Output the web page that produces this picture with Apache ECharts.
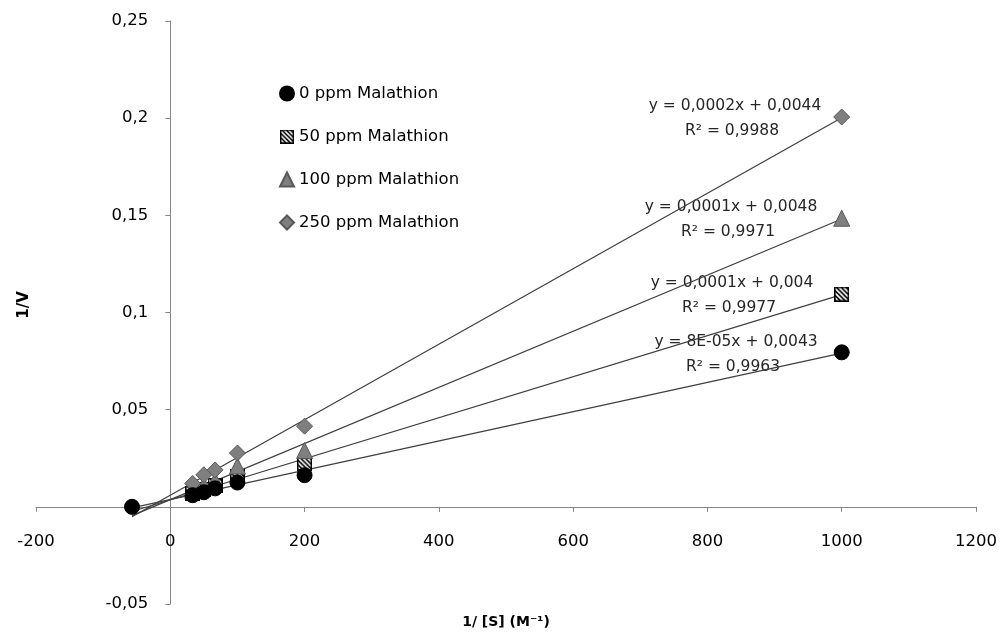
<!DOCTYPE html>
<html>
<head>
<meta charset="utf-8">
<script src="https://cdn.jsdelivr.net/npm/echarts@6/dist/echarts.min.js"></script>
<style>
  html, body { margin: 0; padding: 0; background: #fff; }
  #main { width: 999px; height: 633px; }
</style>
</head>
<body>
<div id="main"></div>
<script>
// values (1/[S] vs 1/V)
var seriesNames = ["0 ppm Malathion", "50 ppm Malathion", "100 ppm Malathion", "250 ppm Malathion"];
var xValues = [33.3, 50, 66.7, 100, 200, 1000];
var y0ppm = [0.006, 0.0075, 0.0095, 0.0125, 0.0163, 0.0795];
var y50ppm = [0.007, 0.009, 0.0112, 0.0158, 0.0223, 0.1095];
var y100ppm = [0.0085, 0.011, 0.0135, 0.021, 0.029, 0.1485];
var y250ppm = [0.012, 0.0165, 0.019, 0.0277, 0.0415, 0.2006];
// extra point on the x axis for the 0 ppm series
var interceptX = -57;
var trendLabels = [
  ["y = 8E-05x + 0,0043", "R² = 0,9963"],
  ["y = 0,0001x + 0,004", "R² = 0,9977"],
  ["y = 0,0001x + 0,0048", "R² = 0,9971"],
  ["y = 0,0002x + 0,0044", "R² = 0,9988"]
];

function pairs(xs, ys) {
  return xs.map(function (x, i) { return [x, ys[i]]; });
}

// least squares fit, drawn from interceptX to last x like the excel trendline
function trend(pts) {
  var n = pts.length, sx = 0, sy = 0, sxx = 0, sxy = 0;
  pts.forEach(function (p) { sx += p[0]; sy += p[1]; sxx += p[0] * p[0]; sxy += p[0] * p[1]; });
  var b = (n * sxy - sx * sy) / (n * sxx - sx * sx);
  var a = (sy - b * sx) / n;
  var x1 = interceptX, x2 = xValues[xValues.length - 1];
  return [[x1, a + b * x1], [x2, a + b * x2]];
}

// black square with white diagonal stripes, used as the 50 ppm marker
function hatchSquare() {
  var c = document.createElement("canvas");
  c.width = 16; c.height = 16;
  var g = c.getContext("2d");
  g.fillStyle = "#000";
  g.fillRect(0, 0, 16, 16);
  g.save();
  g.beginPath();
  g.rect(1.5, 1.5, 13, 13);
  g.clip();
  g.strokeStyle = "#fff";
  g.lineWidth = 1.8;
  g.beginPath();
  for (var k = -16; k <= 16; k += 5) {
    g.moveTo(k, 0); g.lineTo(k + 16, 16);
  }
  g.stroke();
  g.restore();
  return "image://" + c.toDataURL();
}
var squareIcon = hatchSquare();

var data0 = [[interceptX, 0]].concat(pairs(xValues, y0ppm));
var data50 = pairs(xValues, y50ppm);
var data100 = pairs(xValues, y100ppm);
var data250 = pairs(xValues, y250ppm);

var chart = echarts.init(document.getElementById("main"));

function comma(v) { return String(v).replace(".", ","); }

var trendStyle = { color: "#3f3f3f", width: 1.2 };

function trendSeries(pts) {
  return {
    type: "line",
    data: trend(pts),
    symbol: "none",
    silent: true,
    lineStyle: trendStyle,
    z: 1
  };
}

var labelGraphics = [];
var labelPos = [[736, 342], [732, 283], [731, 207], [735, 106]];
trendLabels.forEach(function (t, i) {
  labelGraphics.push({
    type: "text", x: labelPos[i][0], y: labelPos[i][1],
    style: { text: t[0], fill: "#262626", font: "15.5px 'DejaVu Sans'", align: "center", verticalAlign: "middle" }
  });
  labelGraphics.push({
    type: "text", x: labelPos[i][0] - 3, y: labelPos[i][1] + 25,
    style: { text: t[1], fill: "#262626", font: "15.5px 'DejaVu Sans'", align: "center", verticalAlign: "middle" }
  });
});
labelGraphics.push({
  type: "text", x: 506, y: 622,
  style: { text: "1/ [S] (M⁻¹)", fill: "#000", font: "bold 14px 'DejaVu Sans'", align: "center", verticalAlign: "middle" }
});
labelGraphics.push({
  type: "text", x: 24, y: 305, rotation: Math.PI / 2,
  style: { text: "1/V", fill: "#000", font: "bold 15px 'DejaVu Sans'", align: "center", verticalAlign: "middle" }
});

var gridBox = { left: 36, right: 23, top: 21, bottom: 29 };
var xMin = -200, xMax = 1200, yMin = -0.05, yMax = 0.25;
// the axes cross at zero: shift each axis from the grid edge to the zero of the other one
var plotW = 999 - gridBox.left - gridBox.right;
var plotH = 633 - gridBox.top - gridBox.bottom;
var yAxisShift = (0 - xMin) / (xMax - xMin) * plotW;
var xAxisShift = (0 - yMin) / (yMax - yMin) * plotH;

var option = {
  backgroundColor: "#fff",
  animation: false,
  grid: { left: gridBox.left, right: gridBox.right, top: gridBox.top, bottom: gridBox.bottom, containLabel: false, outerBoundsMode: "none" },
  legend: {
    orient: "vertical",
    left: 274,
    top: 80,
    itemWidth: 14,
    itemHeight: 14,
    itemGap: 26,
    textStyle: { fontFamily: "DejaVu Sans", fontSize: 16.5, color: "#000" },
    data: [
      { name: seriesNames[0], icon: "circle" },
      { name: seriesNames[1], icon: squareIcon },
      { name: seriesNames[2], icon: "triangle" },
      { name: seriesNames[3], icon: "diamond" }
    ]
  },
  xAxis: {
    type: "value",
    min: xMin,
    max: xMax,
    interval: 200,
    position: "bottom",
    offset: -xAxisShift,
    axisLine: { onZero: false, lineStyle: { color: "#868686" } },
    axisTick: { show: true, length: 5, lineStyle: { color: "#868686" } },
    axisLabel: {
      margin: 26, color: "#000", fontFamily: "DejaVu Sans", fontSize: 16.5,
      formatter: function (v) { return String(v); }
    },
    splitLine: { show: false }
  },
  yAxis: {
    type: "value",
    min: yMin,
    max: yMax,
    interval: 0.05,
    position: "left",
    offset: -yAxisShift,
    axisLine: { show: true, onZero: false, lineStyle: { color: "#868686" } },
    axisTick: { show: true, length: 5, lineStyle: { color: "#868686" } },
    axisLabel: {
      margin: 22, color: "#000", fontFamily: "DejaVu Sans", fontSize: 16.5,
      formatter: function (v) { return v === 0 ? "" : comma(Math.round(v * 100) / 100); }
    },
    splitLine: { show: false }
  },
  graphic: labelGraphics,
  series: [
    trendSeries(data0),
    trendSeries(data50),
    trendSeries(data100),
    trendSeries(data250),
    {
      name: seriesNames[0], type: "scatter", data: data0, symbol: "circle", symbolSize: 15,
      itemStyle: { color: "#000", borderColor: "#000", borderWidth: 1, opacity: 1 }, z: 6
    },
    {
      name: seriesNames[1], type: "scatter", data: data50, symbol: squareIcon, symbolSize: 15,
      itemStyle: { color: "#000", opacity: 1 }, z: 3
    },
    {
      name: seriesNames[2], type: "scatter", data: data100, symbol: "triangle", symbolSize: 16,
      itemStyle: { color: "#7f7f7f", borderColor: "#595959", borderWidth: 1, opacity: 1 }, z: 4
    },
    {
      name: seriesNames[3], type: "scatter", data: data250, symbol: "diamond", symbolSize: 16,
      itemStyle: { color: "#7f7f7f", borderColor: "#595959", borderWidth: 1, opacity: 1 }, z: 5
    }
  ]
};

chart.setOption(option);
</script>
</body>
</html>
